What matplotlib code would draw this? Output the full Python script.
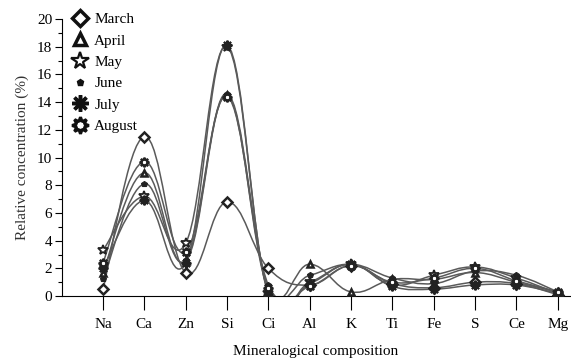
import numpy as np
import matplotlib
matplotlib.use("Agg")
import matplotlib.pyplot as plt
from matplotlib.path import Path
from matplotlib.patches import PathPatch
from matplotlib.lines import Line2D

elements = ["Na", "Ca", "Zn", "Si", "Ci", "Al", "K", "Ti", "Fe", "S", "Ce", "Mg"]
march  = [0.5, 11.5, 1.7, 6.8, 2.0, 0.8, 2.2, 0.9, 0.6, 1.0, 0.9, 0.1]
april  = [1.7, 8.9, 2.5, 14.5, 0.5, 2.3, 0.3, 1.2, 1.2, 1.7, 1.0, 0.3]
may    = [3.3, 7.2, 3.8, 18.0, 0.2, 1.0, 2.3, 0.8, 1.5, 2.1, 1.3, 0.2]
june   = [1.2, 8.1, 2.6, 14.6, 0.8, 1.5, 2.3, 1.3, 0.9, 1.8, 1.5, 0.3]
july   = [2.0, 6.9, 2.4, 18.1, 0.1, 0.9, 2.3, 0.7, 0.5, 0.8, 0.8, 0.2]
august = [2.4, 9.7, 3.2, 14.4, 0.6, 0.7, 2.2, 1.0, 1.3, 2.0, 1.1, 0.3]

series = [
    ("March", march, "D", dict(mfc="white", ms=5, mew=1.8), dict(ms=8, mew=2.5)),
    ("April", april, "^", dict(mfc="white", ms=5, mew=1.8), dict(ms=9, mew=2.5)),
    ("May", may, "*", dict(mfc="white", ms=7, mew=1.3), dict(ms=13, mew=1.6)),
    ("June", june, "p", dict(mfc="#222222", ms=4, mew=0.8), dict(ms=5, mew=1)),
    ("July", july, (8, 2, 0), dict(mfc="#222222", ms=7, mew=1.5), dict(ms=12, mew=2.5)),
    ("August", august, (8, 1, 0), dict(mfc="white", ms=7, mew=1.5), dict(ms=12, mew=2.2)),
]

plt.rcParams["font.family"] = ["Liberation Serif", "DejaVu Serif"]

fig = plt.figure(figsize=(5.71, 3.58), dpi=100)
ax = fig.add_axes([0.1086, 0.173, 0.89, 0.774])

x = np.arange(len(elements))


def smooth_path(xs, ys, k=5.0):
    # Catmull-Rom style smooth curve through the points as Bezier segments
    pts = np.column_stack([xs, ys]).astype(float)
    n = len(pts)
    verts = [pts[0]]
    codes = [Path.MOVETO]
    for i in range(n - 1):
        p0 = pts[i - 1] if i > 0 else pts[i]
        p1 = pts[i]
        p2 = pts[i + 1]
        p3 = pts[i + 2] if i + 2 < n else pts[i + 1]
        c1 = p1 + (p2 - p0) / k
        c2 = p2 - (p3 - p1) / k
        verts += [c1, c2, p2]
        codes += [Path.CURVE4] * 3
    return Path(verts, codes)


handles = []
for name, vals, mk, mstyle, lstyle in series:
    patch = PathPatch(smooth_path(x, vals), fill=False, edgecolor="#5a5a5a",
                      lw=1.1, zorder=2)
    ax.add_patch(patch)
    ax.plot(x, vals, linestyle="none", marker=mk, color="#222222",
            mec="#222222", zorder=3, **mstyle)
    handles.append(Line2D([], [], linestyle="none", marker=mk, color="#111111",
                          mec="#111111",
                          mfc=mstyle["mfc"] if mstyle["mfc"] == "white" else "#111111",
                          label=name, **lstyle))

ax.set_xlim(-0.99, 11.3)
ax.set_ylim(0, 20)
ax.set_xticks(x)
ax.set_xticklabels(elements, fontsize=11)
ax.set_yticks(np.arange(0, 21, 2))
ax.set_yticks(np.arange(0, 21, 1), minor=True)
ax.tick_params(axis="y", labelsize=11, length=5, width=0.8, direction="out", pad=2)
ax.tick_params(axis="y", which="minor", length=3, width=0.8)
ax.tick_params(axis="x", length=10, width=0.8, direction="out", pad=6)
for s in ["top", "right"]:
    ax.spines[s].set_visible(False)
for s in ["left", "bottom"]:
    ax.spines[s].set_linewidth(0.8)

ax.set_xlabel("Mineralogical composition", fontsize=11, labelpad=10)
ax.set_ylabel("Relative concentration (%)", fontsize=11, color="#333333", labelpad=6)

ax.legend(handles=handles, loc="upper left", bbox_to_anchor=(0.005, 1.045),
          frameon=False, fontsize=11, labelspacing=0.5, handletextpad=0.35,
          handlelength=1.2, borderaxespad=0)

fig.savefig("out.png", dpi=100)
